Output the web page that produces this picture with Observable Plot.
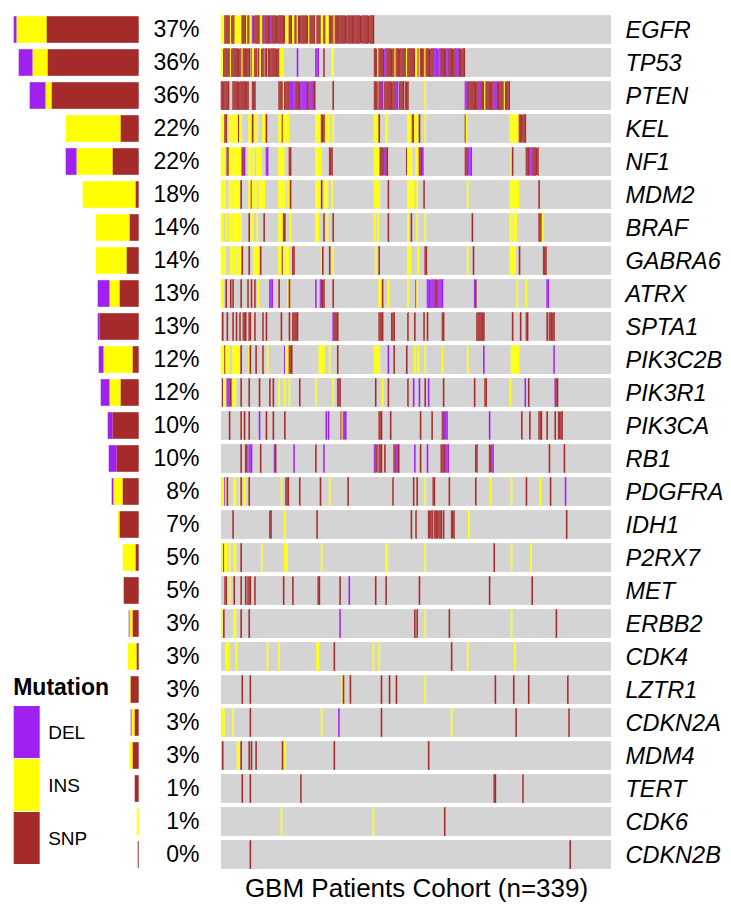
<!DOCTYPE html>
<html>
<head>
<meta charset="utf-8">
<script src="https://cdn.jsdelivr.net/npm/d3@7"></script>
<script src="https://cdn.jsdelivr.net/npm/@observablehq/plot@0.6"></script>
<style>
  html, body { margin: 0; padding: 0; background: white; }
  #wrap { position: relative; width: 731px; height: 911px; overflow: hidden; font-family: "Liberation Sans", Arial, sans-serif; }
  #wrap svg { position: absolute; }
</style>
</head>
<body>
<div id="wrap"></div>
<script>
// ---------------- DATA ----------------
const N_PATIENTS = 339;
const genes = ["EGFR","TP53","PTEN","KEL","NF1","MDM2","BRAF","GABRA6","ATRX","SPTA1","PIK3C2B","PIK3R1","PIK3CA","RB1","PDGFRA","IDH1","P2RX7","MET","ERBB2","CDK4","LZTR1","CDKN2A","MDM4","TERT","CDK6","CDKN2B"];
const pctLabels = ["37%","36%","36%","22%","22%","18%","14%","14%","13%","13%","12%","12%","10%","10%","8%","7%","5%","5%","3%","3%","3%","3%","3%","1%","1%","0%"];
const mutationTypes = ["DEL","INS","SNP"];
const typeColors = ["#a020f0","#ffff00","#a52a2a"];
// mutation counts per gene (left bar chart)
const delCount = [3,14,16,0,11,0,0,0,12,2,5,9,5,8,2,0,0,0,1,0,0,1,0,0,0,0];
const insCount = [30,15,6,55,36,53,34,31,10,0,29,11,0,0,9,2,13,0,3,9,1,3,3,0,2,0];
const snpCount = [92,91,87,18,26,3,9,12,19,39,6,18,26,22,16,19,3,15,6,2,8,4,6,4,0,1];

// patient runs per gene: [firstPatient, lastPatient, type]  (D=DEL, I=INS, S=SNP)
const runsEGFR = [[0,2,"I"],[3,7,"S"],[8,8,"I"],[9,11,"S"],[12,17,"I"],[18,21,"S"],[22,22,"I"],[23,24,"S"],[25,26,"I"],[27,28,"D"],[29,33,"S"],[34,35,"I"],[36,37,"S"],[38,38,"D"],[39,42,"S"],[43,43,"D"],[44,55,"S"],[56,58,"I"],[59,61,"S"],[62,63,"I"],[64,65,"S"],[66,66,"I"],[67,75,"S"],[76,76,"I"],[77,81,"S"],[82,82,"I"],[83,86,"S"],[87,88,"I"],[89,90,"S"],[91,93,"I"],[94,97,"S"],[98,98,"I"],[99,132,"S"]];
const runsTP53 = [[0,1,"I"],[2,7,"S"],[8,8,"I"],[9,17,"S"],[18,18,"I"],[19,24,"S"],[26,26,"S"],[27,27,"I"],[29,30,"S"],[32,32,"S"],[34,34,"I"],[35,36,"S"],[38,39,"S"],[41,50,"S"],[51,53,"I"],[66,66,"D"],[82,84,"D"],[89,89,"S"],[96,97,"I"],[133,135,"S"],[136,136,"I"],[137,141,"S"],[142,143,"D"],[144,150,"S"],[151,151,"I"],[152,160,"S"],[161,161,"I"],[162,168,"S"],[169,170,"I"],[171,171,"S"],[172,172,"I"],[173,176,"S"],[177,177,"I"],[178,184,"S"],[185,190,"D"],[191,195,"S"],[196,197,"D"],[198,203,"S"],[204,206,"D"],[207,211,"S"]];
const runsPTEN = [[0,6,"S"],[10,23,"S"],[27,29,"S"],[50,53,"S"],[54,54,"I"],[55,59,"S"],[60,64,"D"],[65,68,"S"],[69,74,"D"],[75,76,"S"],[77,79,"D"],[80,81,"S"],[97,97,"S"],[133,135,"S"],[137,139,"S"],[140,140,"D"],[142,151,"S"],[152,153,"D"],[155,158,"S"],[160,162,"S"],[177,177,"I"],[212,214,"D"],[215,223,"S"],[224,225,"D"],[226,228,"S"],[229,229,"I"],[230,236,"S"],[237,239,"D"],[240,245,"S"],[246,246,"I"],[247,250,"S"]];
const runsKEL = [[0,2,"I"],[3,4,"S"],[7,9,"I"],[11,14,"I"],[15,15,"S"],[16,17,"I"],[24,26,"I"],[27,27,"S"],[29,29,"I"],[31,31,"I"],[36,37,"I"],[39,39,"S"],[50,52,"I"],[53,53,"S"],[54,56,"I"],[58,58,"I"],[82,86,"I"],[87,89,"S"],[91,93,"I"],[97,97,"I"],[133,136,"I"],[137,137,"S"],[143,144,"I"],[162,165,"I"],[166,167,"S"],[168,168,"I"],[170,171,"I"],[172,172,"S"],[177,177,"I"],[212,212,"S"],[213,213,"I"],[251,258,"I"],[259,264,"S"]];
const runsNF1 = [[0,2,"I"],[5,6,"S"],[7,9,"I"],[11,17,"I"],[18,19,"S"],[20,20,"D"],[24,26,"I"],[28,28,"I"],[31,34,"I"],[39,40,"D"],[50,54,"I"],[59,60,"S"],[82,86,"I"],[94,96,"S"],[133,137,"I"],[138,140,"S"],[141,142,"D"],[143,144,"S"],[161,161,"S"],[162,165,"I"],[169,171,"I"],[172,174,"S"],[175,175,"D"],[212,213,"S"],[214,217,"D"],[252,252,"I"],[253,253,"S"],[265,267,"S"],[268,270,"D"],[271,275,"S"]];
const runsMDM2 = [[0,3,"I"],[7,9,"I"],[11,15,"I"],[17,17,"S"],[24,25,"I"],[26,26,"S"],[27,28,"I"],[30,30,"I"],[33,37,"I"],[50,55,"I"],[58,58,"I"],[60,60,"S"],[82,86,"I"],[87,87,"S"],[90,92,"I"],[96,96,"I"],[133,137,"I"],[145,145,"S"],[162,167,"I"],[170,170,"I"],[176,176,"S"],[214,214,"I"],[251,258,"I"],[276,276,"S"]];
const runsBRAF = [[0,1,"I"],[4,4,"I"],[7,9,"I"],[11,15,"I"],[17,17,"I"],[24,24,"S"],[26,27,"I"],[31,31,"I"],[37,37,"S"],[50,53,"I"],[54,55,"S"],[60,60,"I"],[82,84,"I"],[89,89,"S"],[92,92,"I"],[97,97,"S"],[133,133,"I"],[136,136,"I"],[145,145,"S"],[162,162,"I"],[165,165,"S"],[170,170,"I"],[177,177,"I"],[218,218,"S"],[251,252,"I"],[254,256,"I"],[276,278,"S"],[279,279,"I"]];
const runsGABRA6 = [[0,3,"I"],[8,9,"I"],[11,12,"I"],[14,16,"I"],[18,18,"S"],[24,24,"S"],[28,32,"I"],[34,34,"S"],[50,52,"I"],[53,53,"S"],[54,54,"I"],[56,58,"I"],[62,63,"S"],[87,87,"I"],[88,88,"S"],[94,94,"S"],[97,97,"I"],[134,134,"I"],[137,137,"S"],[162,164,"I"],[171,171,"I"],[177,178,"S"],[214,214,"I"],[219,219,"S"],[251,255,"I"],[259,259,"S"],[280,282,"S"]];
const runsATRX = [[0,1,"I"],[4,4,"S"],[8,8,"S"],[10,10,"S"],[17,17,"S"],[23,23,"S"],[26,26,"S"],[29,29,"S"],[32,32,"I"],[42,44,"D"],[50,50,"S"],[58,58,"I"],[59,59,"S"],[82,82,"D"],[86,86,"D"],[87,89,"S"],[97,97,"S"],[137,139,"I"],[140,140,"S"],[145,145,"I"],[162,162,"I"],[169,169,"D"],[170,170,"I"],[179,185,"D"],[186,187,"S"],[188,192,"D"],[220,220,"D"],[221,221,"S"],[257,257,"I"],[265,265,"I"],[283,284,"D"]];
const runsSPTA1 = [[1,1,"S"],[5,5,"S"],[10,10,"S"],[13,13,"S"],[16,16,"S"],[19,21,"S"],[24,25,"S"],[29,29,"S"],[36,36,"S"],[39,39,"S"],[52,52,"S"],[59,59,"S"],[62,66,"S"],[97,97,"D"],[98,101,"S"],[137,140,"S"],[148,150,"S"],[162,162,"S"],[168,168,"S"],[176,176,"S"],[179,179,"S"],[192,193,"S"],[222,228,"S"],[253,253,"S"],[260,260,"S"],[265,266,"S"],[283,283,"S"],[285,289,"S"]];
const runsPIK3C2B = [[0,2,"I"],[3,3,"S"],[4,6,"I"],[10,15,"I"],[17,17,"S"],[24,24,"I"],[25,25,"S"],[30,30,"S"],[36,36,"S"],[40,40,"I"],[55,55,"D"],[56,58,"I"],[59,61,"S"],[85,89,"I"],[94,94,"I"],[101,101,"S"],[133,137,"I"],[145,145,"D"],[150,150,"S"],[161,161,"S"],[168,168,"I"],[171,171,"I"],[177,177,"I"],[192,192,"I"],[214,214,"I"],[228,228,"D"],[252,258,"I"],[289,289,"D"]];
const runsPIK3R1 = [[1,1,"S"],[2,3,"I"],[5,7,"D"],[8,8,"S"],[10,12,"I"],[17,17,"S"],[24,24,"S"],[33,33,"S"],[42,42,"S"],[45,45,"S"],[50,50,"I"],[55,55,"I"],[59,59,"I"],[68,68,"S"],[82,82,"I"],[97,97,"I"],[101,101,"D"],[102,103,"S"],[134,134,"S"],[140,140,"I"],[145,145,"S"],[162,162,"S"],[167,167,"D"],[172,172,"D"],[177,177,"S"],[180,180,"D"],[193,193,"S"],[220,220,"S"],[229,230,"S"],[251,251,"I"],[264,264,"D"],[267,267,"S"],[290,290,"D"],[291,292,"S"]];
const runsPIK3CA = [[7,7,"S"],[17,17,"S"],[20,20,"S"],[24,24,"S"],[33,33,"D"],[39,39,"S"],[45,45,"S"],[55,55,"S"],[91,91,"D"],[93,93,"D"],[104,104,"S"],[105,105,"I"],[106,108,"D"],[137,139,"S"],[147,147,"S"],[173,173,"S"],[183,183,"S"],[192,193,"S"],[194,196,"D"],[233,233,"D"],[261,261,"S"],[268,268,"S"],[276,278,"S"],[283,283,"S"],[290,290,"S"],[293,296,"S"]];
const runsRB1 = [[17,17,"S"],[21,22,"S"],[24,26,"D"],[34,34,"S"],[46,46,"D"],[47,47,"S"],[63,63,"D"],[82,82,"S"],[89,89,"D"],[133,134,"D"],[135,135,"S"],[137,139,"S"],[142,142,"S"],[150,151,"S"],[152,153,"D"],[154,154,"S"],[168,168,"D"],[173,173,"S"],[179,179,"D"],[191,194,"S"],[195,197,"D"],[221,222,"S"],[233,234,"S"],[235,236,"D"],[285,285,"S"],[298,298,"S"]];
const runsPDGFRA = [[1,1,"I"],[3,3,"D"],[4,4,"I"],[5,5,"S"],[11,12,"I"],[16,16,"I"],[17,17,"S"],[20,20,"I"],[24,24,"S"],[52,52,"I"],[56,58,"S"],[68,68,"S"],[86,86,"S"],[94,94,"I"],[110,110,"S"],[149,149,"S"],[167,167,"S"],[170,170,"S"],[177,177,"I"],[184,185,"S"],[198,198,"S"],[221,221,"S"],[234,234,"I"],[252,252,"I"],[265,265,"S"],[277,277,"I"],[286,286,"S"],[299,299,"D"]];
const runsIDH1 = [[10,10,"S"],[42,43,"S"],[55,55,"I"],[83,83,"S"],[165,165,"S"],[169,169,"S"],[180,183,"S"],[185,191,"S"],[193,193,"S"],[200,202,"S"],[215,215,"I"],[300,300,"S"]];
const runsP2RX7 = [[1,1,"I"],[2,2,"S"],[3,4,"I"],[7,7,"I"],[11,12,"I"],[17,17,"S"],[35,35,"I"],[55,57,"I"],[87,87,"I"],[143,144,"I"],[177,177,"I"],[237,237,"S"],[252,252,"I"],[269,269,"I"]];
const runsMET = [[3,4,"S"],[7,7,"I"],[11,11,"S"],[17,17,"S"],[21,21,"S"],[23,25,"S"],[29,29,"S"],[54,54,"S"],[62,62,"S"],[84,85,"S"],[103,103,"S"],[111,111,"D"],[134,134,"S"],[143,143,"S"],[172,172,"S"],[233,233,"S"],[270,270,"S"]];
const runsERBB2 = [[0,0,"I"],[2,2,"S"],[11,12,"I"],[17,17,"S"],[24,24,"S"],[103,103,"D"],[168,168,"S"],[170,170,"S"],[177,177,"I"],[198,198,"S"],[252,252,"I"],[291,291,"S"]];
const runsCDK4 = [[4,4,"I"],[6,6,"I"],[13,13,"I"],[40,40,"I"],[50,50,"I"],[83,84,"I"],[98,98,"S"],[132,132,"I"],[137,137,"I"],[200,200,"S"],[214,214,"I"],[255,255,"I"]];
const runsLZTR1 = [[18,18,"S"],[25,25,"S"],[105,105,"I"],[106,106,"S"],[112,112,"S"],[139,139,"S"],[146,146,"S"],[152,152,"S"],[177,177,"I"],[238,238,"S"],[254,254,"S"],[267,267,"S"],[301,301,"S"]];
const runsCDKN2A = [[1,2,"I"],[10,10,"I"],[25,25,"S"],[87,87,"I"],[102,102,"D"],[139,139,"S"],[200,200,"I"],[256,256,"S"],[302,302,"S"]];
const runsMDM4 = [[1,1,"S"],[14,15,"I"],[17,17,"S"],[24,24,"S"],[26,26,"S"],[30,30,"S"],[53,53,"S"],[55,55,"I"],[98,98,"S"],[180,180,"S"]];
const runsTERT = [[18,18,"S"],[25,25,"S"],[69,69,"S"],[237,238,"S"],[262,262,"S"]];
const runsCDK6 = [[52,52,"I"],[132,132,"I"],[194,194,"S"]];
const runsCDKN2B = [[25,25,"S"],[303,303,"S"]];
const xLabel = "GBM Patients Cohort (n=339)";
const legendTitle = "Mutation";

// ---------------- BUILD TABLES ----------------
const geneRuns = [runsEGFR,runsTP53,runsPTEN,runsKEL,runsNF1,runsMDM2,runsBRAF,runsGABRA6,runsATRX,runsSPTA1,runsPIK3C2B,runsPIK3R1,runsPIK3CA,runsRB1,runsPDGFRA,runsIDH1,runsP2RX7,runsMET,runsERBB2,runsCDK4,runsLZTR1,runsCDKN2A,runsMDM4,runsTERT,runsCDK6,runsCDKN2B];
const code = {D: "DEL", I: "INS", S: "SNP"};
const cells = [];
genes.forEach((g, gi) => {
  const row = new Array(N_PATIENTS).fill("none");
  for (const [a, b, t] of geneRuns[gi]) for (let k = a; k <= b; k++) row[k] = code[t];
  row.forEach((t, i) => cells.push({gene: g, i, type: t}));
});
const mutCells = cells.filter(d => d.type !== "none");
const barData = genes.flatMap((g, i) => [
  {gene: g, type: "DEL", count: delCount[i]},
  {gene: g, type: "INS", count: insCount[i]},
  {gene: g, type: "SNP", count: snpCount[i]}
]);

const W = 731, H = 911;
const TOP = 10.92, BOTTOM = H - 873.08;
const FONT = "'Liberation Sans', Arial, sans-serif";
const wrap = document.getElementById("wrap");

// Left stacked bar chart
const bars = Plot.plot({
  width: 220, height: H,
  marginLeft: 0, marginRight: 220 - 138.7, marginTop: TOP, marginBottom: BOTTOM,
  style: {background: "transparent", fontFamily: FONT},
  x: {domain: [0, 138.7], reverse: true, axis: null},
  y: {domain: genes, type: "band", padding: 0, axis: null},
  color: {domain: mutationTypes, range: typeColors},
  marks: [
    Plot.barX(barData, Plot.stackX({x: "count", y: "gene", fill: "type", order: ["SNP","INS","DEL"], insetTop: 3.2, insetBottom: 3.2}))
  ]
});
bars.style.left = "0px"; bars.style.top = "0px";
wrap.appendChild(bars);

// Heatmap of patients
const heat = Plot.plot({
  width: W, height: H,
  marginLeft: 221, marginRight: W - 611, marginTop: TOP, marginBottom: BOTTOM,
  style: {background: "transparent", fontFamily: FONT},
  x: {domain: [0, N_PATIENTS], axis: null},
  y: {domain: genes, type: "band", padding: 0, axis: null},
  color: {domain: ["none", ...mutationTypes], range: ["#d4d4d4", ...typeColors]},
  marks: [
    Plot.barX(genes, {x1: 0, x2: N_PATIENTS, y: d => d, fill: "#d4d4d4", insetTop: 2.1, insetBottom: 2.1}),
    Plot.barX(mutCells, {x1: "i", x2: d => d.i + 1, y: "gene", fill: "type", insetTop: 2.1, insetBottom: 2.1, insetLeft: -0.3, insetRight: -0.3, stroke: "white", strokeWidth: 0.2, strokeOpacity: 0.6}),
    Plot.text(genes, {x: N_PATIENTS, y: d => d, text: d => d, dx: 14, textAnchor: "start", fontStyle: "italic", fontSize: 23.5, fill: "black"}),
    Plot.text(genes, {x: 0, y: d => d, text: (d, i) => pctLabels[i], dx: -22, textAnchor: "end", fontSize: 23, fill: "black"}),
    Plot.text([xLabel], {x: N_PATIENTS / 2, frameAnchor: "bottom", lineAnchor: "middle", dy: 15, fontSize: 26, fill: "black"})
  ]
});
heat.style.left = "0px"; heat.style.top = "0px";
wrap.appendChild(heat);

// Legend
const legend = Plot.plot({
  width: 130, height: 220,
  marginLeft: 13.7, marginRight: 130 - 39.7, marginTop: 45, marginBottom: 15,
  style: {background: "transparent", fontFamily: FONT},
  x: {axis: null},
  y: {domain: mutationTypes, type: "band", padding: 0, axis: null},
  color: {domain: mutationTypes, range: typeColors},
  marks: [
    Plot.cell(mutationTypes, {y: d => d, fill: d => d, insetBottom: 1}),
    Plot.text(mutationTypes, {y: d => d, text: d => d, frameAnchor: "right", dx: 8, textAnchor: "start", fontSize: 19, fill: "black"}),
    Plot.text([legendTitle], {frameAnchor: "top-left", lineAnchor: "middle", dy: -18, dx: -1, textAnchor: "start", fontSize: 23, fontWeight: "bold", fill: "black"})
  ]
});
legend.style.left = "0px"; legend.style.top = "660px";
wrap.appendChild(legend);
</script>
</body>
</html>
